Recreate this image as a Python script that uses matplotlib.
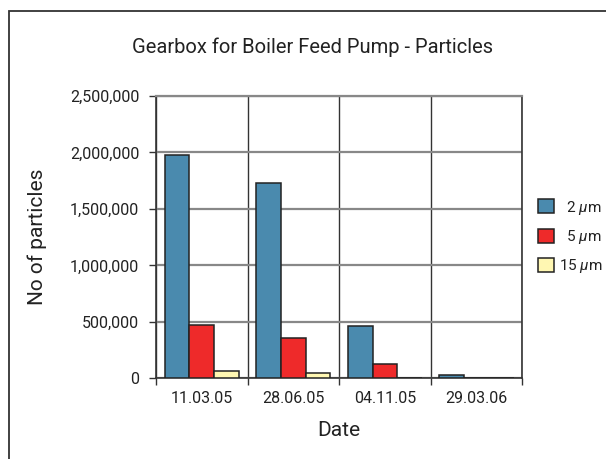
import matplotlib
matplotlib.use('Agg')
import matplotlib.pyplot as plt
from matplotlib.patches import Rectangle
import numpy as np

plt.rcParams['font.family'] = ['Roboto', 'DejaVu Sans']
plt.rcParams['mathtext.fontset'] = 'custom'
plt.rcParams['mathtext.rm'] = 'Roboto'
plt.rcParams['mathtext.it'] = 'Roboto:italic'

dates = ['11.03.05', '28.06.05', '04.11.05', '29.03.06']
sizes = ['  2 $\\mu$m', '  5 $\\mu$m', '15 $\\mu$m']
p2 = [1975000, 1732000, 466000, 30000]
p5 = [472000, 354000, 124000, 0]
p15 = [65000, 47000, 0, 0]

colors = ['#4a8aae', '#ee2a2a', '#fff7b2']
text_col = '#222222'

fig = plt.figure(figsize=(6.06, 4.59), dpi=100)
ax = fig.add_axes([156 / 606, 1 - 378.3 / 459, 366.3 / 606, 282.3 / 459])

# outer frame
fig.patches.append(Rectangle((9 / 606, -0.1), 1.2, 1 - 11 / 459 + 0.1,
                             transform=fig.transFigure, fill=False,
                             edgecolor='#333333', linewidth=1.3))

x = np.arange(len(dates))
w = 0.27
for i, (vals, lab) in enumerate(zip([p2, p5, p15], sizes)):
    ax.bar(x + (i - 1) * w, vals, w, color=colors[i], edgecolor='#222222',
           linewidth=1.1, label=lab, zorder=3)

ax.set_xlim(-0.5, len(dates) - 0.5)
ax.set_ylim(0, 2500000)
ax.set_yticks(np.arange(0, 2500001, 500000))
ax.set_yticklabels([f'{v:,}' for v in range(0, 2500001, 500000)])

ax.set_xticks(np.arange(-0.5, len(dates), 1.0))
ax.set_xticklabels([])
ax.set_xticks(x, minor=True)
ax.set_xticklabels(dates, minor=True)
ax.tick_params(axis='x', which='minor', length=0, pad=9, labelsize=11.5, labelcolor=text_col)
ax.tick_params(axis='x', which='major', length=5, width=1, color='#333333', direction='out')
ax.tick_params(axis='y', length=5, width=1, color='#333333', pad=7, labelsize=11.5, labelcolor=text_col)

ax.grid(axis='y', color='#888888', linewidth=1.6, zorder=1)
ax.grid(axis='x', which='major', color='#333333', linewidth=1.0, zorder=1)
ax.set_axisbelow(True)

for s in ['left', 'bottom', 'right']:
    ax.spines[s].set_color('#333333')
    ax.spines[s].set_linewidth(1.2)
ax.spines['top'].set_color('#888888')
ax.spines['top'].set_linewidth(1.6)

ax.set_xlabel('Date', fontsize=15, color=text_col, va='center')
ax.xaxis.set_label_coords(0.5, (378.3 - 431) / 282.3)
ax.set_ylabel('No of particles', fontsize=15, color=text_col, va='center')
ax.yaxis.set_label_coords((37 - 156) / 366.3, 0.5)
fig.text(312 / 606, 1 - 47 / 459, 'Gearbox for Boiler Feed Pump - Particles',
         ha='center', va='center', fontsize=14.5, color=text_col)

fig.legend(loc='center left', bbox_to_anchor=(538 / 606, 1 - 237 / 459),
           frameon=False, fontsize=11, handlelength=1.05, handleheight=1.05,
           labelspacing=0.75, handletextpad=0.35, borderpad=0, borderaxespad=0,
           labelcolor=text_col)

fig.savefig('out.png', dpi=100)
